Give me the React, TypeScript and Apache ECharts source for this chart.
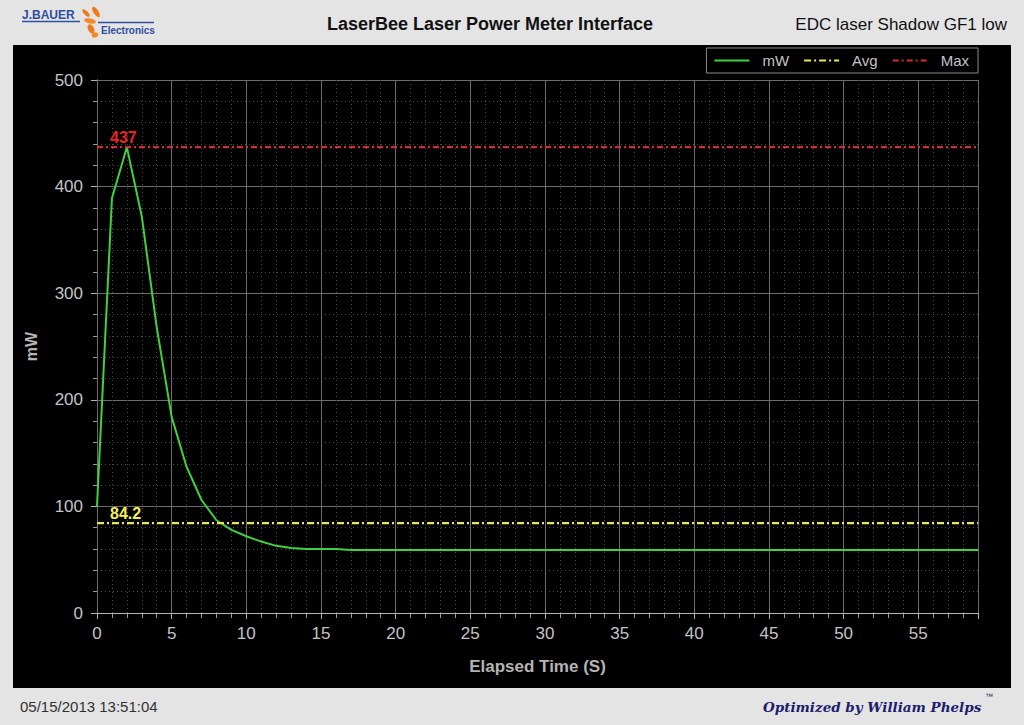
import React, { useEffect, useRef } from "react";
import * as echarts from "echarts";

// ---- data ----
const SAMPLE_INTERVAL_S = 1;
const MW_VALUES = [
  100, 389, 437, 372, 268, 184, 137, 106, 87, 78,
  72, 67, 63, 61, 60, 60, 60, 59, 59, 59,
  59, 59, 59, 59, 59, 59, 59, 59, 59, 59,
  59, 59, 59, 59, 59, 59, 59, 59, 59, 59,
  59, 59, 59, 59, 59, 59, 59, 59, 59, 59,
  59, 59, 59, 59, 59, 59, 59, 59, 59, 59,
];
const AVG_MW = 84.2;
const MAX_MW = 437;
const X_MIN = 0;
const X_MAX = 59;
const X_TICK_LABELS = [0, 5, 10, 15, 20, 25, 30, 35, 40, 45, 50, 55];
const Y_TICK_LABELS = [0, 100, 200, 300, 400, 500];

const TITLE = "LaserBee Laser Power Meter Interface";
const SUBTITLE = "EDC laser Shadow GF1 low";
const TIMESTAMP = "05/15/2013 13:51:04";
const SIGNATURE = "Optimized by William Phelps";

const FONT = "'Liberation Sans', Arial, Helvetica, sans-serif";

export default function App() {
  const ref = useRef<HTMLDivElement>(null);

  useEffect(() => {
    if (!ref.current) return;
    const chart = echarts.init(ref.current, undefined, { renderer: "svg" });
    const mwData = MW_VALUES.map((v, i) => [i * SAMPLE_INTERVAL_S, v]);
    const axisGray = "#b4b4b4";
    const labelGray = "#c4c4c4";

    const option: any = {
      animation: false,
      backgroundColor: "#e4e4e4",
      textStyle: { fontFamily: FONT },
      graphic: [
        { type: "rect", z: -10, silent: true, shape: { x: 13, y: 45, width: 998, height: 643 }, style: { fill: "#000" } },
        { type: "text", x: 490, y: 24, style: { text: TITLE, fill: "#111", font: `bold 18px ${FONT}`, align: "center", verticalAlign: "middle" } },
        { type: "text", x: 1007, y: 24, style: { text: SUBTITLE, fill: "#111", font: `17px ${FONT}`, align: "right", verticalAlign: "middle" } },
        // logo
        { type: "text", x: 22, y: 15, style: { text: "J.BAUER", fill: "#2f4f9f", font: `bold 12px ${FONT}`, verticalAlign: "middle" } },
        { type: "line", shape: { x1: 22, y1: 21.5, x2: 80, y2: 21.5 }, style: { stroke: "#2f4f9f", lineWidth: 1.5 } },
        { type: "line", shape: { x1: 98, y1: 22.5, x2: 154, y2: 22.5 }, style: { stroke: "#2f4f9f", lineWidth: 1.5 } },
        { type: "text", x: 101, y: 30, style: { text: "Electronics", fill: "#2f4f9f", font: `bold 10px ${FONT}`, verticalAlign: "middle" } },
        { type: "ellipse", x: 86, y: 13, rotation: -0.8, shape: { cx: 0, cy: 0, rx: 5, ry: 2 }, style: { fill: "#f07a1a" } },
        { type: "ellipse", x: 96, y: 12, rotation: -1.0, shape: { cx: 0, cy: 0, rx: 6, ry: 2.5 }, style: { fill: "#f07a1a" } },
        { type: "ellipse", x: 90, y: 21, rotation: -0.2, shape: { cx: 0, cy: 0, rx: 6, ry: 2.5 }, style: { fill: "#f28a2a" } },
        { type: "ellipse", x: 91, y: 29, rotation: -1.1, shape: { cx: 0, cy: 0, rx: 5, ry: 3 }, style: { fill: "#f07a1a" } },
        { type: "ellipse", x: 95, y: 35, rotation: 0.3, shape: { cx: 0, cy: 0, rx: 3.5, ry: 2.5 }, style: { fill: "#f28a2a" } },
        // footer
        { type: "text", x: 20, y: 706, style: { text: TIMESTAMP, fill: "#333", font: `15px ${FONT}`, verticalAlign: "middle" } },
        { type: "text", x: 763, y: 707, style: { text: SIGNATURE, fill: "#1c1c6e", font: `italic bold 13.5px 'DejaVu Serif', serif`, verticalAlign: "middle" } },
        { type: "text", x: 985, y: 696, style: { text: "™", fill: "#1c1c6e", font: `8px ${FONT}`, verticalAlign: "middle" } },
      ],
      legend: {
        top: 48,
        right: 46,
        backgroundColor: "#000",
        borderColor: "#8a8a8a",
        borderWidth: 1,
        borderRadius: 0,
        padding: [5, 9, 5, 7],
        itemWidth: 35,
        itemHeight: 12,
        itemGap: 14,
        itemStyle: { opacity: 0, borderWidth: 0 },
        textStyle: { color: labelGray, fontSize: 15, fontFamily: FONT, padding: [0, 0, 0, 8] },
        data: ["mW", "Avg", "Max"],
      },
      grid: { left: 97, top: 80, right: 46, bottom: 112 },
      xAxis: [
        {
          type: "value",
          min: X_MIN,
          max: X_MAX,
          interval: 1,
          position: "bottom",
          axisLine: { show: false },
          axisTick: { show: true, length: 5, lineStyle: { color: "#9a9a9a" } },
          axisLabel: { show: false },
          splitLine: { show: true, lineStyle: { color: "#4a4a4a", type: [1, 3], width: 1 } },
        },
        {
          type: "value",
          min: X_MIN,
          max: X_MAX,
          interval: 5,
          position: "bottom",
          z: 1,
          axisLine: { show: true, lineStyle: { color: axisGray, width: 1 } },
          axisTick: { show: true, length: 6, lineStyle: { color: axisGray } },
          axisLabel: {
            color: labelGray,
            fontSize: 17,
            fontFamily: FONT,
            margin: 12,
            formatter: (v: number) => (X_TICK_LABELS.includes(v) ? String(v) : ""),
          },
          splitLine: { show: true, lineStyle: { color: "#6c6c6c", width: 1 } },
          name: "Elapsed Time (S)",
          nameLocation: "middle",
          nameGap: 45,
          nameTextStyle: { color: "#b4b4b4", fontSize: 17, fontWeight: "bold", fontFamily: FONT },
        },
      ],
      yAxis: {
        type: "value",
        min: Y_TICK_LABELS[0],
        max: Y_TICK_LABELS[Y_TICK_LABELS.length - 1],
        interval: 100,
        axisLine: { show: true, lineStyle: { color: axisGray, width: 1 } },
        axisTick: { show: true, length: 6, lineStyle: { color: axisGray } },
        minorTick: { show: true, splitNumber: 5, length: 4, lineStyle: { color: "#9a9a9a" } },
        minorSplitLine: { show: true, lineStyle: { color: "#4a4a4a", type: [1, 3], width: 1 } },
        splitLine: { show: true, lineStyle: { color: "#6c6c6c", width: 1 } },
        axisLabel: { color: labelGray, fontSize: 17, fontFamily: FONT, margin: 14 },
        name: "mW",
        nameLocation: "middle",
        nameGap: 58,
        nameRotate: 90,
        nameTextStyle: { color: "#b4b4b4", fontSize: 16, fontWeight: "bold", fontFamily: FONT },
      },
      series: [
        {
          name: "mW",
          type: "line",
          xAxisIndex: 1,
          data: mwData,
          symbol: "none",
          z: 4,
          lineStyle: { color: "#3ed23e", width: 2 },
          itemStyle: { color: "#3ed23e" },
        },
        {
          name: "Avg",
          type: "line",
          xAxisIndex: 1,
          data: [[X_MIN, AVG_MW], [X_MAX, AVG_MW]],
          symbol: "none",
          z: 3,
          lineStyle: { color: "#ece45a", width: 2, type: [7, 3, 2, 3] },
          itemStyle: { color: "#ece45a" },
          markLine: {
            silent: true,
            symbol: ["none", "none"],
            lineStyle: { color: "#ece45a", width: 2, type: [7, 3, 2, 3] },
            label: { show: true, position: "insideStartTop", distance: [13, 2], color: "#f2ee55", fontSize: 16, fontWeight: "bold", fontFamily: FONT, formatter: "{c}" },
            data: [{ yAxis: AVG_MW }],
          },
        },
        {
          name: "Max",
          type: "line",
          xAxisIndex: 1,
          data: [[X_MIN, MAX_MW], [X_MAX, MAX_MW]],
          symbol: "none",
          z: 3,
          lineStyle: { color: "#d42a3a", width: 2, type: [6, 3, 2, 3] },
          itemStyle: { color: "#d42a3a" },
          markLine: {
            silent: true,
            symbol: ["none", "none"],
            lineStyle: { color: "#d42a3a", width: 2, type: [6, 3, 2, 3] },
            label: { show: true, position: "insideStartTop", distance: [13, 2], color: "#e82424", fontSize: 16, fontWeight: "bold", fontFamily: FONT, formatter: "{c}" },
            data: [{ yAxis: MAX_MW }],
          },
        },
      ],
    };
    chart.setOption(option);
    return () => chart.dispose();
  }, []);

  return <div ref={ref} style={{ position: "fixed", left: 0, top: 0, width: 1024, height: 725 }} />;
}
